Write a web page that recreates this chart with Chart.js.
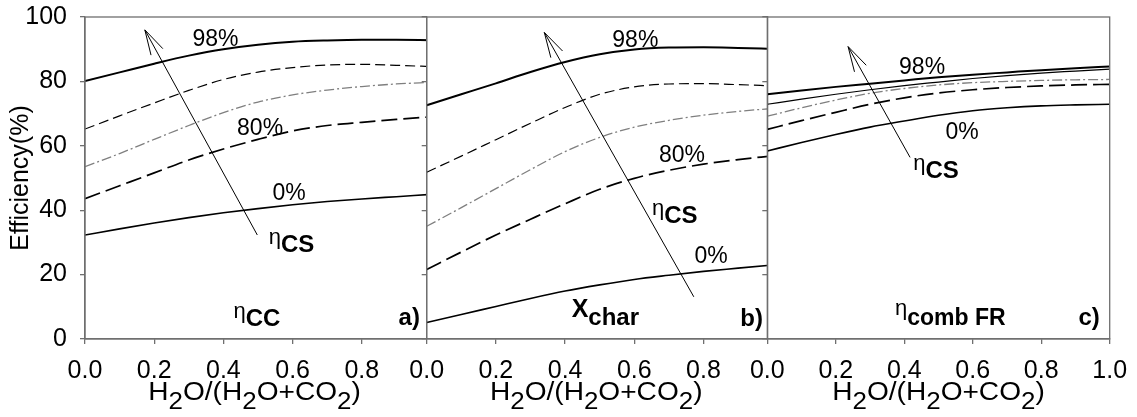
<!DOCTYPE html>
<html>
<head>
<meta charset="utf-8">
<script src="https://cdn.jsdelivr.net/npm/chart.js@4.4.1/dist/chart.umd.min.js"></script>
<style>
  html, body { margin: 0; padding: 0; background: #fff; width: 1137px; height: 417px; overflow: hidden; }
  body { position: relative; }
  canvas { position: absolute; top: 0; }
</style>
</head>
<body>
<canvas id="panelA" width="445" height="417" style="left:0px"></canvas>
<canvas id="panelB" width="390" height="417" style="left:400px"></canvas>
<canvas id="panelC" width="397" height="417" style="left:740px"></canvas>
<script>
// H2O/(H2O+CO2) ratio
const xValues = [0.0, 0.1, 0.2, 0.3, 0.4, 0.5, 0.6, 0.7, 0.8, 0.9, 1.0];
const yTickValues = [0, 20, 40, 60, 80, 100];

// a) eta_CC for the different eta_CS levels
const cc98   = [80.1, 82.8, 85.5, 88.0, 90.0, 91.4, 92.3, 92.7, 92.9, 92.9, 92.8];
const ccMid1 = [65.2, 69.3, 73.3, 77.2, 80.6, 82.9, 84.3, 85.1, 85.3, 85.0, 84.6];
const ccMid2 = [53.5, 57.6, 62.0, 66.3, 70.3, 73.6, 75.8, 77.3, 78.4, 79.2, 79.7];
const cc80   = [43.6, 47.6, 51.6, 55.6, 59.0, 62.0, 64.6, 66.3, 67.3, 68.2, 69.0];
const cc0    = [32.3, 34.2, 36.0, 37.7, 39.2, 40.5, 41.7, 42.7, 43.5, 44.2, 44.9];

// b) X_char
const xc98   = [72.6, 76.0, 79.4, 82.9, 86.0, 88.4, 89.9, 90.5, 90.6, 90.4, 90.1];
const xcMid1 = [51.8, 56.8, 61.9, 67.0, 71.9, 76.0, 78.3, 79.2, 79.3, 79.0, 78.6];
const xcMid2 = [35.0, 40.8, 46.7, 52.6, 58.2, 62.6, 65.8, 67.9, 69.5, 70.7, 71.6];
const xc80   = [21.6, 27.0, 32.3, 37.2, 42.0, 46.5, 49.9, 52.4, 54.3, 55.7, 56.9];
const xc0    = [5.1, 7.6, 10.1, 12.6, 14.9, 16.8, 18.5, 19.8, 21.0, 22.0, 23.0];

// c) eta_comb FR
const fr98   = [76.0, 77.2, 78.3, 79.3, 80.3, 81.3, 82.1, 82.8, 83.5, 84.1, 84.6];
const frMid1 = [72.9, 74.5, 76.0, 77.4, 78.7, 79.8, 80.9, 81.8, 82.6, 83.2, 83.8];
const frMid2 = [69.2, 71.8, 74.2, 76.3, 77.8, 78.9, 79.6, 80.0, 80.3, 80.5, 80.6];
const fr80   = [65.1, 67.8, 70.4, 72.9, 74.9, 76.4, 77.4, 78.1, 78.6, 78.9, 79.1];
const fr0    = [58.4, 61.0, 63.5, 65.8, 67.7, 69.5, 70.9, 71.8, 72.4, 72.7, 72.9];

const FAMILY = '"Liberation Sans", Arial, Helvetica, sans-serif';
const AXIS = '#6f6f6f';
Chart.defaults.font.family = FAMILY;
Chart.defaults.color = '#000';

const STYLE_SOLID_THICK = { borderColor: '#000', borderWidth: 2.0, borderDash: [] };
const STYLE_DASH_THIN   = { borderColor: '#000', borderWidth: 1.2, borderDash: [10, 5] };
const STYLE_SOLID_THIN  = { borderColor: '#000', borderWidth: 1.2, borderDash: [] };
const STYLE_DASHDOT     = { borderColor: '#7f7f7f', borderWidth: 1.3, borderDash: [10, 3, 2, 3] };
const STYLE_LONGDASH    = { borderColor: '#000', borderWidth: 1.7, borderDash: [16, 6] };
const STYLE_SOLID_MED   = { borderColor: '#000', borderWidth: 1.6, borderDash: [] };

function f(size, bold) { return (bold ? 'bold ' : '') + size + 'px ' + FAMILY; }

// draws a run of text pieces (with sub/superscript offsets) on one baseline
function drawRich(ctx, parts, x, y, align, sx) {
  sx = sx || 1;
  let w = 0;
  const sized = parts.map(p => {
    ctx.font = p.font;
    const pw = ctx.measureText(p.t).width;
    w += pw;
    return Object.assign({ w: pw }, p);
  });
  let x0 = x;
  if (align === 'center') x0 = x - w * sx / 2;
  else if (align === 'right') x0 = x - w * sx;
  ctx.save();
  ctx.translate(x0, y);
  ctx.scale(sx, 1);
  ctx.textAlign = 'left';
  ctx.textBaseline = 'alphabetic';
  ctx.fillStyle = '#000';
  let cx = 0;
  sized.forEach(p => {
    ctx.font = p.font;
    ctx.fillText(p.t, cx, p.dy || 0);
    cx += p.w;
  });
  ctx.restore();
}

const xTitleParts = [
  { t: 'H', font: f(26) }, { t: '2', font: f(24), dy: 9 },
  { t: 'O/(H', font: f(26) }, { t: '2', font: f(24), dy: 9 },
  { t: 'O+CO', font: f(26) }, { t: '2', font: f(24), dy: 9 },
  { t: ')', font: f(26) }
];

function etaLabel(sub) {
  return [{ t: 'η', font: f(22), dy: -8 }, { t: sub, font: f(24, true) }];
}

function makePanel(canvasId, cfg) {
  const datasets = cfg.series.map(s => Object.assign({
    data: xValues.map((x, i) => ({ x: x, y: s.values[i] })),
    pointRadius: 0,
    fill: false,
    cubicInterpolationMode: 'monotone'
  }, s.style));

  const panelPlugin = {
    id: 'panelDecor' + canvasId,
    beforeDraw(chart) {
      if (!cfg.opaque) return;
      const ctx = chart.ctx;
      ctx.save();
      ctx.fillStyle = '#fff';
      ctx.fillRect(chart.chartArea.left, 0, chart.width - chart.chartArea.left, chart.height);
      ctx.restore();
    },
    afterDatasetsDraw(chart) {
      const ctx = chart.ctx;
      const xs = chart.scales.x, ys = chart.scales.y;
      const a = chart.chartArea;
      // frame around the plot area
      ctx.save();
      ctx.strokeStyle = AXIS;
      ctx.lineWidth = 1.3;
      ctx.strokeRect(a.left, a.top, a.right - a.left, a.bottom - a.top);
      ctx.restore();

      // arrow showing increasing eta_CS
      const tx = xs.getPixelForValue(cfg.arrow.tip[0]), ty = ys.getPixelForValue(cfg.arrow.tip[1]);
      const bx = xs.getPixelForValue(cfg.arrow.tail[0]), by = ys.getPixelForValue(cfg.arrow.tail[1]);
      const ang = Math.atan2(by - ty, bx - tx);
      const len = 26, spread = 15 * Math.PI / 180;
      ctx.save();
      ctx.strokeStyle = '#000';
      ctx.lineWidth = 1;
      ctx.beginPath();
      ctx.moveTo(bx, by); ctx.lineTo(tx, ty);
      ctx.moveTo(tx + len * Math.cos(ang - spread), ty + len * Math.sin(ang - spread));
      ctx.lineTo(tx, ty);
      ctx.lineTo(tx + len * Math.cos(ang + spread), ty + len * Math.sin(ang + spread));
      ctx.stroke();
      ctx.restore();

      // curve labels and panel captions
      cfg.notes.forEach(n => {
        drawRich(ctx, n.parts, xs.getPixelForValue(n.x), ys.getPixelForValue(n.y), n.align, n.sx);
      });

      // x axis title
      drawRich(ctx, xTitleParts, xs.getPixelForValue(cfg.titleAt), 400, 'center', 1.08);
    }
  };

  return new Chart(document.getElementById(canvasId), {
    type: 'line',
    data: { datasets: datasets },
    options: {
      responsive: false,
      animation: false,
      devicePixelRatio: 1,
      layout: { padding: { left: 0, right: cfg.padRight, top: 17, bottom: 0 } },
      plugins: { legend: { display: false }, tooltip: { enabled: false } },
      scales: {
        x: {
          type: 'linear', min: 0, max: 1,
          afterFit: s => { s.height = 78; s.paddingLeft = 0; s.paddingRight = 0; },
          ticks: {
            stepSize: 0.2, autoSkip: false, maxRotation: 0, padding: 12,
            font: { size: 25 }, color: '#000',
            callback: v => (cfg.hideLastX && Math.abs(v - 1) < 1e-9) ? '' : Number(v).toFixed(1)
          },
          grid: { drawOnChartArea: false, drawTicks: true, tickLength: 5, color: AXIS, lineWidth: 1.3 },
          border: { display: true, color: AXIS, width: 1.3 }
        },
        y: {
          min: 0, max: 100,
          afterBuildTicks: s => { s.ticks = yTickValues.map(v => ({ value: v })); },
          afterFit: s => { s.width = cfg.yWidth; s.paddingTop = 0; s.paddingBottom = 0; },
          ticks: {
            padding: 13, font: { size: 25 }, color: '#000',
            callback: v => cfg.showYLabels ? String(v) : ''
          },
          grid: { drawOnChartArea: false, drawTicks: true, tickLength: 5, color: AXIS, lineWidth: 1.3 },
          border: { display: true, color: AXIS, width: 1.3 },
          title: {
            display: cfg.showYLabels, text: 'Efficiency(%)', color: '#000',
            font: { size: 25 }, padding: { top: 6, bottom: 0 }
          }
        }
      }
    },
    plugins: [panelPlugin]
  });
}

makePanel('panelA', {
  yWidth: 85, padRight: 14, showYLabels: true, hideLastX: true, opaque: false, titleAt: 0.49,
  series: [
    { values: cc98, style: STYLE_SOLID_THICK },
    { values: ccMid1, style: STYLE_DASH_THIN },
    { values: ccMid2, style: STYLE_DASHDOT },
    { values: cc80, style: STYLE_LONGDASH },
    { values: cc0, style: STYLE_SOLID_MED }
  ],
  arrow: { tip: [0.173, 96.0], tail: [0.498, 32.3] },
  notes: [
    { x: 0.377, y: 91.0, align: 'center', parts: [{ t: '98%', font: f(23) }] },
    { x: 0.506, y: 63.4, align: 'center', parts: [{ t: '80%', font: f(23) }] },
    { x: 0.590, y: 43.2, align: 'center', parts: [{ t: '0%', font: f(23) }] },
    { x: 0.531, y: 27.1, align: 'left', parts: etaLabel('CS') },
    { x: 0.429, y: 4.0, align: 'left', parts: etaLabel('CC') },
    { x: 0.968, y: 4.3, align: 'right', parts: [{ t: 'a)', font: f(24, true) }] }
  ]
});

makePanel('panelB', {
  yWidth: 26.7, padRight: 17.3, showYLabels: false, hideLastX: true, opaque: true, titleAt: 0.49,
  series: [
    { values: xc98, style: STYLE_SOLID_THICK },
    { values: xcMid1, style: STYLE_DASH_THIN },
    { values: xcMid2, style: STYLE_DASHDOT },
    { values: xc80, style: STYLE_LONGDASH },
    { values: xc0, style: STYLE_SOLID_MED }
  ],
  arrow: { tip: [0.340, 95.2], tail: [0.772, 13.1] },
  notes: [
    { x: 0.603, y: 90.8, align: 'center', parts: [{ t: '98%', font: f(23) }] },
    { x: 0.738, y: 55.1, align: 'center', parts: [{ t: '80%', font: f(23) }] },
    { x: 0.822, y: 23.5, align: 'center', parts: [{ t: '0%', font: f(23) }] },
    { x: 0.651, y: 35.9, align: 'left', parts: etaLabel('CS') },
    { x: 0.419, y: 4.3, align: 'left', parts: [
      { t: 'X', font: f(25, true), dy: -8 }, { t: 'char', font: f(24, true) }
    ] },
    { x: 0.972, y: 4.0, align: 'right', parts: [{ t: 'b)', font: f(24, true) }] }
  ]
});

makePanel('panelC', {
  yWidth: 27.3, padRight: 27.3, showYLabels: false, hideLastX: false, opaque: true, titleAt: 0.5,
  series: [
    { values: fr98, style: STYLE_SOLID_THICK },
    { values: frMid1, style: STYLE_SOLID_THIN },
    { values: frMid2, style: STYLE_DASHDOT },
    { values: fr80, style: STYLE_LONGDASH },
    { values: fr0, style: STYLE_SOLID_MED }
  ],
  arrow: { tip: [0.236, 90.8], tail: [0.417, 56.4] },
  notes: [
    { x: 0.452, y: 82.2, align: 'center', parts: [{ t: '98%', font: f(23) }] },
    { x: 0.569, y: 62.1, align: 'center', parts: [{ t: '0%', font: f(23) }] },
    { x: 0.426, y: 49.9, align: 'left', parts: etaLabel('CS') },
    { x: 0.373, y: 4.3, align: 'left', parts: [
      { t: 'η', font: f(22), dy: -10 }, { t: 'comb FR', font: f(23, true) }
    ] },
    { x: 0.971, y: 4.3, align: 'right', parts: [{ t: 'c)', font: f(24, true) }] }
  ]
});
</script>
</body>
</html>
